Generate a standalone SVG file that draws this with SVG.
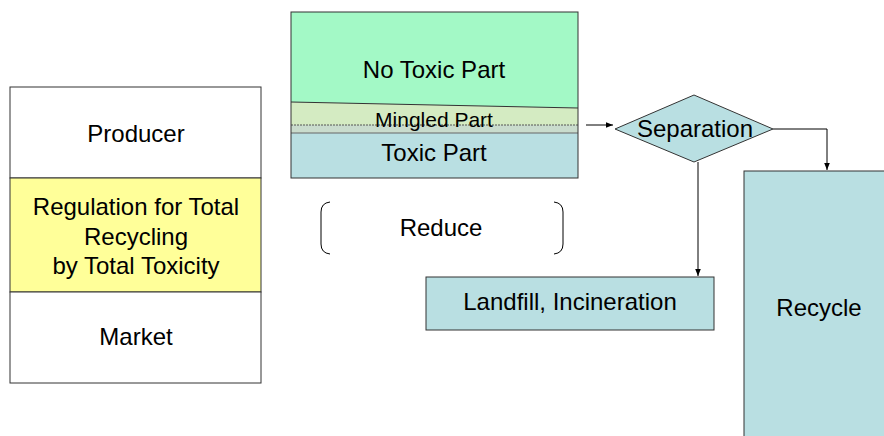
<svg xmlns="http://www.w3.org/2000/svg" width="884" height="436" viewBox="0 0 884 436">
<style>
text{font-family:"Liberation Sans",Arial,sans-serif;fill:#000;text-anchor:middle}
.t{font-size:24px}
.s{font-size:21px}
.box{stroke:#333;stroke-width:1}
.ln{stroke:#000;stroke-width:1;fill:none}
</style>
<defs>
<marker id="ah" viewBox="0 0 10 10" refX="10" refY="5" markerWidth="7" markerHeight="7" orient="auto" markerUnits="userSpaceOnUse">
<path d="M0,1 L10,5 L0,9 z" fill="#000"/>
</marker>
</defs>
<rect width="884" height="436" fill="#fff"/>

<g id="regulation-stack">
<rect class="box" x="10" y="87" width="251" height="91" fill="#fff"/>
<rect class="box" x="10" y="178" width="251" height="114" fill="#ffff99"/>
<rect class="box" x="10" y="292" width="251" height="91" fill="#fff"/>
<text class="t" x="136" y="142">Producer</text>
<text class="t" x="136" y="215">Regulation for Total</text>
<text class="t" x="136" y="245">Recycling</text>
<text class="t" x="136" y="274">by Total Toxicity</text>
<text class="t" x="136" y="345">Market</text>
</g>

<g id="product">
<rect x="291" y="12" width="287" height="166" fill="#b9dfe2"/>
<polygon points="291,12 578,12 578,108 291,102" fill="#a3f9c6"/>
<polygon points="291,102 578,108 578,125 291,125" fill="#d4ebc2"/>
<rect x="291" y="125" width="287" height="8" fill="#c9dccd"/>
<line x1="291" y1="102" x2="578" y2="108" stroke="#333" stroke-width="1"/>
<line x1="291" y1="125" x2="578" y2="125" stroke="#555" stroke-width="1" stroke-dasharray="2,1"/>
<line x1="291" y1="133" x2="578" y2="133" stroke="#666" stroke-width="1"/>
<rect x="291" y="12" width="287" height="166" fill="none" stroke="#333" stroke-width="1"/>
<text class="t" x="434" y="78">No Toxic Part</text>
<text class="s" x="434" y="127">Mingled Part</text>
<text class="t" x="434" y="161">Toxic Part</text>
</g>

<g id="reduce">
<path class="ln" d="M330,202 Q321,203 321,212 L321,244 Q321,253 330,254" stroke="#444"/>
<path class="ln" d="M554,202 Q563,203 563,212 L563,244 Q563,253 554,254" stroke="#444"/>
<text class="t" x="441" y="236">Reduce</text>
</g>

<g id="separation">
<polygon class="box" points="615,129 694,95 773,129 694,162" fill="#b9dfe2"/>
<text class="t" x="695" y="137">Separation</text>
</g>

<g id="landfill">
<rect class="box" x="426" y="277" width="288" height="53" fill="#b9dfe2"/>
<text class="t" x="570" y="310">Landfill, Incineration</text>
</g>

<g id="recycle">
<rect class="box" x="744" y="171" width="150" height="280" fill="#b9dfe2"/>
<text class="t" x="819" y="316">Recycle</text>
</g>

<g id="connectors">
<line class="ln" x1="586" y1="125" x2="613" y2="125" marker-end="url(#ah)"/>
<polyline class="ln" points="773,129 827,129 827,170" marker-end="url(#ah)"/>
<line class="ln" x1="698" y1="162" x2="698" y2="276" marker-end="url(#ah)"/>
</g>
</svg>
